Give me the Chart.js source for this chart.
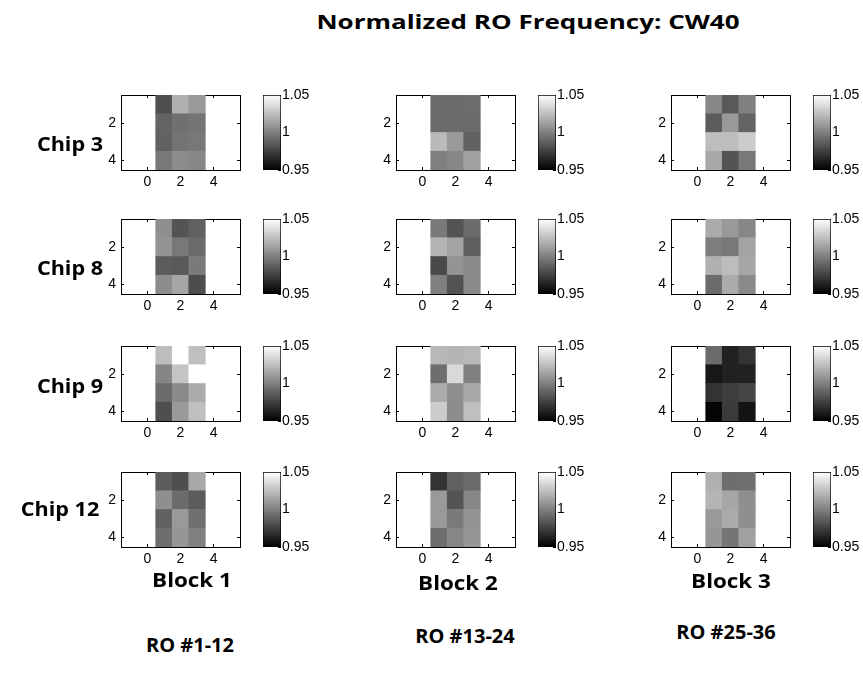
<!DOCTYPE html>
<html>
<head>
<meta charset="utf-8">
<title>Normalized RO Frequency: CW40</title>
<script src="https://cdn.jsdelivr.net/npm/chart.js@4.4.1/dist/chart.umd.min.js"></script>
<style>
  html, body { margin: 0; padding: 0; background: #fff; }
  #fig { position: relative; width: 863px; height: 683px; overflow: hidden; background: #fff; }
  #fig canvas { position: absolute; }
  .lbl {
    position: absolute;
    font-family: "Open Sans", "Liberation Sans", sans-serif;
    font-weight: 700;
    font-size: 20px;
    color: #000;
    white-space: nowrap;
    line-height: 1;
  }
</style>
</head>
<body>
<div id="fig"></div>
<script>
// ---- labels ----
const figTitle = 'Normalized RO Frequency: CW40';
const chipNames = ['Chip 3', 'Chip 8', 'Chip 9', 'Chip 12'];
const blockNames = ['Block 1', 'Block 2', 'Block 3'];
const roRanges = ['RO #1-12', 'RO #13-24', 'RO #25-36'];

// ---- axes ticks / colour scale ----
const xTicks = [0, 2, 4];
const yTicks = [2, 4];
const cbarTicks = [0.95, 1, 1.05];
const cbarMin = 0.95;
const cbarMax = 1.05;

// ---- normalized RO frequency, 4 rows x 3 columns per chip and block ----
const chip3Block1 = [[0.981, 1.019, 1.010], [0.989, 0.994, 0.996], [0.988, 0.995, 0.997], [0.997, 1.005, 1.003]];
const chip3Block2 = [[0.992, 0.992, 0.993], [0.992, 0.992, 0.992], [1.023, 1.010, 0.988], [1.000, 1.003, 1.013]];
const chip3Block3 = [[1.003, 0.985, 1.000], [0.986, 1.010, 0.989], [1.024, 1.024, 1.030], [1.016, 0.983, 0.997]];

const chip8Block1 = [[1.006, 0.983, 0.988], [1.008, 0.997, 0.992], [0.986, 0.985, 0.998], [1.005, 1.015, 0.980]];
const chip8Block2 = [[0.998, 0.983, 0.992], [1.021, 1.014, 0.987], [0.979, 1.008, 1.004], [1.000, 0.982, 1.004]];
const chip8Block3 = [[1.017, 1.010, 1.003], [0.999, 0.997, 1.014], [1.019, 1.024, 1.015], [0.992, 1.017, 1.004]];

const chip9Block1 = [[1.024, 1.058, 1.025], [1.002, 1.027, 1.061], [0.992, 1.004, 1.017], [0.981, 1.010, 1.025]];
const chip9Block2 = [[1.022, 1.021, 1.022], [0.993, 1.035, 1.000], [1.017, 1.006, 1.016], [1.030, 1.005, 1.025]];
const chip9Block3 = [[0.992, 0.963, 0.970], [0.959, 0.963, 0.963], [0.970, 0.974, 0.977], [0.952, 0.973, 0.958]];

const chip12Block1 = [[0.986, 0.981, 1.016], [1.006, 0.992, 0.986], [0.988, 1.010, 0.994], [0.993, 1.009, 1.000]];
const chip12Block2 = [[0.970, 0.988, 0.992], [1.010, 0.983, 1.003], [1.010, 0.998, 1.008], [0.993, 1.003, 1.009]];
const chip12Block3 = [[1.019, 0.993, 0.994], [1.021, 1.015, 1.006], [1.010, 1.017, 1.006], [1.009, 0.996, 1.013]];

const panels = [
  [chip3Block1, chip3Block2, chip3Block3],
  [chip8Block1, chip8Block2, chip8Block3],
  [chip9Block1, chip9Block2, chip9Block3],
  [chip12Block1, chip12Block2, chip12Block3]
];

// ---- layout ----
const axLeft = [121, 396, 671];
const axTop = [95, 219, 346, 472];
const AXW = 119, AXH = 75;
const YW = 30, XH = 28, PAD = 20;
const CB_OFF = 142, CBW = 18, CBLABEL = 44;
const X_RANGE = [-1.6, 5.6];
const Y_RANGE = [0.5, 4.5];

const tickFont = { family: '"Liberation Sans", Arial, sans-serif', size: 14 };
const fig = document.getElementById('fig');

function gray(v) {
  const t = Math.max(0, Math.min(1, (v - cbarMin) / (cbarMax - cbarMin)));
  const g = Math.round(t * 255);
  return `rgb(${g},${g},${g})`;
}

function addCanvas(left, top, w, h) {
  const c = document.createElement('canvas');
  c.width = w; c.height = h;
  c.style.left = left + 'px'; c.style.top = top + 'px';
  c.style.width = w + 'px'; c.style.height = h + 'px';
  fig.appendChild(c);
  return c;
}

function fixedTicks(list) {
  return (scale) => { scale.ticks = list.map((v) => ({ value: v })); };
}

// box edge axis with inward tick marks
function edgeAxis(position, range, ticks, showLabels, size, z) {
  const horizontal = position === 'top' || position === 'bottom';
  return {
    type: 'linear',
    position,
    min: range[0],
    max: range[1],
    offset: false,
    reverse: !horizontal,
    z,
    afterBuildTicks: fixedTicks(ticks),
    afterFit: (s) => { if (horizontal) s.height = size; else s.width = size; },
    grid: { offset: false, drawOnChartArea: false, drawTicks: true, tickLength: -3, color: '#000', lineWidth: 1 },
    border: { display: true, color: '#000', width: 1 },
    ticks: {
      display: showLabels,
      color: '#000',
      font: tickFont,
      padding: horizontal ? 7 : 8,
      maxRotation: 0,
      autoSkip: false
    }
  };
}

function heatmap(canvas, grid) {
  const cells = [];
  const colors = [];
  grid.forEach((row, r) => row.forEach((v, c) => {
    cells.push({ x: c + 1, y: [r + 0.5, r + 1.5] });
    colors.push(gray(v));
  }));
  return new Chart(canvas, {
    type: 'bar',
    data: {
      datasets: [{
        data: cells,
        backgroundColor: colors,
        borderWidth: 0,
        barPercentage: 1,
        categoryPercentage: 1,
        grouped: false
      }]
    },
    options: {
      responsive: false,
      animation: false,
      events: [],
      layout: { padding: { top: PAD, right: PAD, left: 0, bottom: 0 } },
      plugins: { legend: { display: false }, tooltip: { enabled: false }, title: { display: false } },
      scales: {
        x: edgeAxis('bottom', X_RANGE, xTicks, true, XH, 0),
        x2: edgeAxis('top', X_RANGE, xTicks, false, 0, 1),
        y: edgeAxis('left', Y_RANGE, yTicks, true, YW, 1),
        y2: edgeAxis('right', Y_RANGE, yTicks, false, 0, 1)
      }
    }
  });
}

function colorbar(canvas) {
  return new Chart(canvas, {
    type: 'bar',
    data: {
      labels: [''],
      datasets: [{
        data: [[cbarMin, cbarMax]],
        backgroundColor: (ctx) => {
          const chart = ctx.chart;
          const ys = chart.scales.y;
          if (!chart.chartArea || !ys) return '#808080';
          const g = chart.ctx.createLinearGradient(0, ys.getPixelForValue(cbarMin), 0, ys.getPixelForValue(cbarMax));
          g.addColorStop(0, '#000');
          g.addColorStop(1, '#fff');
          return g;
        },
        borderColor: '#000',
        borderWidth: 1,
        borderSkipped: false,
        barPercentage: 1,
        categoryPercentage: 1
      }]
    },
    options: {
      responsive: false,
      animation: false,
      events: [],
      layout: { padding: { top: PAD, bottom: PAD, left: 0, right: 0 } },
      plugins: { legend: { display: false }, tooltip: { enabled: false } },
      scales: {
        x: { display: false },
        y: {
          type: 'linear',
          position: 'right',
          min: cbarMin,
          max: cbarMax,
          z: 1,
          afterBuildTicks: fixedTicks(cbarTicks),
          afterFit: (s) => { s.width = CBLABEL; },
          grid: { drawOnChartArea: false, drawTicks: true, tickLength: -3, color: '#000' },
          border: { display: false },
          ticks: {
            color: '#000',
            font: tickFont,
            padding: 4,
            callback: (v) => String(v)
          }
        }
      }
    }
  });
}

// ---- build the grid of panels ----
panels.forEach((rowPanels, r) => {
  rowPanels.forEach((grid, c) => {
    const hm = addCanvas(axLeft[c] - YW, axTop[r] - PAD, YW + AXW + PAD, PAD + AXH + XH);
    heatmap(hm, grid);
    const cb = addCanvas(axLeft[c] + CB_OFF, axTop[r] - PAD, CBW + CBLABEL, PAD + AXH + PAD);
    colorbar(cb);
  });
});

// ---- text ----
function addLabel(text, cx, cy, size, stretch) {
  const d = document.createElement('div');
  d.className = 'lbl';
  d.textContent = text;
  d.style.left = cx + 'px';
  d.style.top = cy + 'px';
  d.style.fontSize = size + 'px';
  d.style.transform = `translate(-50%, -50%) scaleX(${stretch})`;
  fig.appendChild(d);
}

addLabel(figTitle, 528, 22, 20, 1.3);
const chipX = [70, 70, 70, 60];
const chipY = [144, 268, 386, 509];
chipNames.forEach((t, i) => addLabel(t, chipX[i], chipY[i], 20, 1.08));
const blockX = [192, 458, 731];
const blockY = [580, 583, 581];
blockNames.forEach((t, i) => addLabel(t, blockX[i], blockY[i], 20, 1.12));
const roX = [190, 465, 726];
const roY = [645, 636, 632];
roRanges.forEach((t, i) => addLabel(t, roX[i], roY[i], 20, 1.0));
</script>
</body>
</html>
